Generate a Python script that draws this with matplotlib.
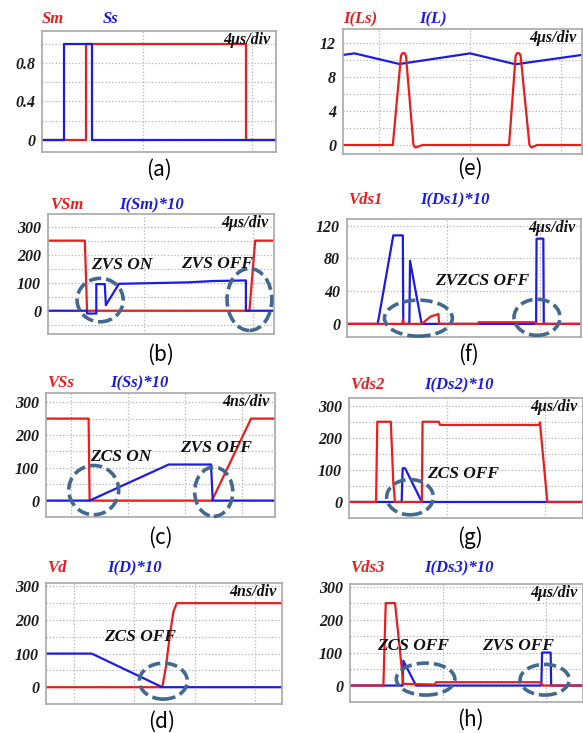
import matplotlib.pyplot as plt
from matplotlib.patches import Ellipse

RED = '#e61e1e'
BLUE = '#1c1ce0'
RING = '#44698e'
W, H = 583, 733

# (a) gate signals, 4us/div
a_t_sm = [0, 1.62, 1.62, 7.49, 7.49, 8.59]
a_sm = [0, 0, 1, 1, 0, 0]
a_t_ss = [0, 0.795, 0.795, 1.83, 1.83, 8.59]
a_ss = [0, 0, 1, 1, 0, 0]

# (e) inductor currents
e_t_ls = [0, 2.20, 2.56, 2.62, 2.72, 2.78, 3.11, 3.19, 3.52,
          7.33, 7.62, 7.68, 7.78, 7.84, 8.23, 8.32, 8.57, 10.55]
e_ls = [0, 0, 10.5, 10.8, 10.8, 10.5, 0, -0.3, 0,
        0, 10.5, 10.8, 10.8, 10.5, 0, -0.3, 0, 0]
e_t_l = [0, 0.51, 2.49, 5.61, 7.62, 10.55]
e_l = [10.6, 10.78, 9.53, 10.78, 9.5, 10.6]

# (b) main switch
b_t_v = [0, 1.35, 1.43, 7.38, 7.59, 8.28]
b_v = [250, 250, 0, 0, 250, 250]
b_t_i = [0, 1.43, 1.43, 1.77, 1.77, 2.08, 2.12, 2.60, 5.08, 6.06, 7.25, 7.25, 8.28]
b_i = [0, 0, -10, -10, 95, 95, 20, 96, 101, 106, 108, 0, 0]

# (f) Ds1
f_t_v = [0, 2.38, 2.40, 2.44, 3.21, 3.6, 3.93, 3.96, 5.65, 5.66, 8.09, 8.12, 10.06]
f_v = [0, 0, 5, 0, 0, 9, 12, 0, 0, 2, 2, 0, 0]
f_t_i = [0, 1.32, 1.99, 2.40, 2.42, 2.68, 2.71, 3.21, 8.13, 8.15, 8.44, 8.46, 10.06]
f_i = [0, 0, 108, 108, 0, 0, 77, 0, 0, 104, 104, 0, 0]

# (c) auxiliary switch, 4ns/div
c_t_v = [0, 2.99, 3.06, 11.65, 14.39, 16.07]
c_v = [250, 250, 0, 0, 250, 250]
c_t_i = [0, 3.06, 8.61, 11.58, 11.70, 16.07]
c_i = [0, 0, 110, 110, 0, 0]

# (g) Ds2
g_t_v = [0, 1.10, 1.15, 1.70, 1.80, 1.87, 2.96, 2.99, 3.65, 3.70, 7.74, 7.76, 8.06, 9.51]
g_v = [0, 0, 250, 250, 60, 0, 0, 250, 250, 240, 240, 248, 0, 0]
g_t_i = [0, 2.14, 2.18, 2.28, 2.96, 9.51]
g_i = [0, 0, 105, 105, 0, 0]

# (d) diode, 4ns/div
d_t_v = [0, 7.71, 7.95, 8.2, 8.45, 8.67, 15.65]
d_v = [0, 0, 60, 150, 225, 250, 250]
d_t_i = [0, 3.03, 7.71, 15.65]
d_i = [100, 100, 0, 0]

# (h) Ds3
h_t_v = [0, 1.29, 1.38, 1.74, 2.06, 3.28, 3.32, 7.34, 7.46, 9.0]
h_v = [0, 0, 250, 250, 5, 3, 10, 10, 0, 0]
h_t_i = [0, 2.03, 2.06, 2.55, 7.39, 7.42, 7.75, 7.77, 9.0]
h_i = [0, 0, 75, 0, 0, 100, 100, 0, 0]

SERIF = dict(family='Liberation Serif', weight='bold', style='italic')


def fp(x, y):
    return x / W, 1 - y / H


def panel(rect, xlim, ylim, xgrid, yticks, ylabels, div, caption, cap_x, cap_y,
          red_name, red_pos, blue_name, blue_pos):
    l, t, r, b = rect
    ax = fig.add_axes([l / W, 1 - b / H, (r - l) / W, (b - t) / H])
    ax.set_xlim(xlim)
    ax.set_ylim(ylim)
    ax.set_xticks(xgrid, [''] * len(xgrid))
    ax.tick_params(length=0, pad=5, labelcolor='#1a1a1a')
    ax.set_yticks(yticks)
    ax.set_yticklabels(ylabels, fontsize=11.5, **SERIF)
    ax.grid(True, color='#b4b4b4', linestyle=':', linewidth=0.9)
    for s in ax.spines.values():
        s.set_color('#a8a8a8')
        s.set_linewidth(1.2)
    ax.text(0.975, 0.925, div, transform=ax.transAxes, ha='right', va='center',
            fontsize=11.5, color='#111111', **SERIF)
    fig.text(*fp(cap_x, cap_y), caption, ha='center', va='center', fontsize=15,
             family='Noto Sans CJK KR')
    fig.text(*fp(*red_pos), red_name, ha='left', va='center', fontsize=12,
             color=RED, **SERIF)
    fig.text(*fp(*blue_pos), blue_name, ha='left', va='center', fontsize=12,
             color=BLUE, **SERIF)
    return ax


def ring(ax, x, y, w, h):
    ax.add_patch(Ellipse((x, y), w, h, fill=False, ec=RING, lw=2.6,
                         ls=(0, (3.4, 1.4)), zorder=5, clip_on=False))


def note(ax, x, y, s):
    ax.text(x, y, s, ha='center', va='center', fontsize=12.5, color='#111111',
            zorder=6, **SERIF)


fig = plt.figure(figsize=(W / 100, H / 100), dpi=100)
lw = 1.6
us = '4\u03bcs/div'
ns = '4ns/div'
y50 = [-50, 0, 50, 100, 150, 200, 250, 300]
l50 = ['', '0', '', '100', '', '200', '', '300']

# (a)
ax = panel((42, 31, 276, 152), (0, 8.59), (-0.125, 1.13), [3.71, 7.71],
           [0, 0.2, 0.4, 0.6, 0.8, 1.0], ['0', '', '0.4', '', '0.8', ''],
           us, '(a)', 159, 170, 'Sm', (42, 19), 'Ss', (103, 19))
ax.plot(a_t_sm, a_sm, color=RED, lw=lw)
ax.plot(a_t_ss, a_ss, color=BLUE, lw=lw)

# (e)
ax = panel((343, 29, 582, 154), (0, 10.55), (-1.06, 13.65), [1.61, 5.61, 9.64],
           [0, 2, 4, 6, 8, 10, 12], ['0', '', '4', '', '8', '', '12'],
           us, '(e)', 470, 169, 'I(Ls)', (343, 19), 'I(L)', (419, 19))
ax.plot(e_t_l, e_l, color=BLUE, lw=lw)
ax.plot(e_t_ls, e_ls, color=RED, lw=lw)

# (b)
ax = panel((48, 214, 274, 334), (0, 8.28), (-83, 345), [3.52, 7.52],
           y50, l50, us, '(b)', 161, 355, 'VSm', (50, 205), 'I(Sm)*10', (119, 205))
ax.plot(b_t_v, b_v, color=RED, lw=lw)
ax.plot(b_t_i, b_i, color=BLUE, lw=lw)
ring(ax, 1.91, 38, 1.69, 155)
ring(ax, 7.38, 40, 1.64, 221)
note(ax, 2.70, 163, 'ZVS ON')
note(ax, 6.18, 165, 'ZVS OFF')

# (f)
ax = panel((347, 219, 581, 337), (0, 10.06), (-16, 128), [4.30, 8.30],
           [0, 40, 80, 120], ['0', '40', '80', '120'],
           us, '(f)', 468, 355, 'Vds1', (348, 200), 'I(Ds1)*10', (420, 200))
ax.plot(f_t_i, f_i, color=BLUE, lw=lw)
ax.plot(f_t_v, f_v, color=RED, lw=lw)
ring(ax, 3.07, 7, 2.92, 44)
ring(ax, 8.17, 8, 1.98, 44)
note(ax, 5.79, 52, 'ZVZCS OFF')

# (c)
ax = panel((46, 393, 275, 517), (0, 16.07), (-44, 328), [1.75, 5.75, 9.75, 13.75],
           y50, l50, ns, '(c)', 160, 538, 'VSs', (47, 383), 'I(Ss)*10', (110, 383))
ax.plot(c_t_v, c_v, color=RED, lw=lw)
ax.plot(c_t_i, c_i, color=BLUE, lw=lw)
ring(ax, 3.35, 32, 3.5, 150)
ring(ax, 11.77, 27, 2.67, 150)
note(ax, 5.26, 132, 'ZCS ON')
note(ax, 11.95, 160, 'ZVS OFF')

# (g)
ax = panel((349, 398, 583, 518), (0, 9.51), (-36, 324), [3.97, 7.97],
           y50, l50, us, '(g)', 470, 538, 'Vds2', (350, 385), 'I(Ds2)*10', (424, 385))
ax.plot(g_t_i, g_i, color=BLUE, lw=lw)
ax.plot(g_t_v, g_v, color=RED, lw=lw)
ring(ax, 2.48, 15, 1.9, 110)
note(ax, 4.65, 88, 'ZCS OFF')

# (d)
ax = panel((46, 583, 282, 704), (0, 15.65), (-50, 310), [1.86, 5.86, 9.86, 13.86],
           y50, l50, ns, '(d)', 162, 722, 'Vd', (47, 568), 'I(D)*10', (107, 568))
ax.plot(d_t_v, d_v, color=RED, lw=lw)
ax.plot(d_t_i, d_i, color=BLUE, lw=lw)
ring(ax, 7.78, 18, 3.18, 107)
note(ax, 6.23, 148, 'ZCS OFF')

# (h)
ax = panel((350, 584, 583, 702), (0, 9.0), (-35, 308), [3.58, 7.58],
           y50, l50, us, '(h)', 470, 720, 'Vds3', (350, 568), 'I(Ds3)*10', (424, 568))
ax.plot(h_t_i, h_i, color=BLUE, lw=lw)
ax.plot(h_t_v, h_v, color=RED, lw=lw)
ring(ax, 2.92, 19.5, 2.26, 97)
ring(ax, 7.52, 17.5, 1.9, 93)
note(ax, 2.44, 119, 'ZCS OFF')
note(ax, 6.50, 119, 'ZVS OFF')

fig.savefig('out.png', dpi=100)
